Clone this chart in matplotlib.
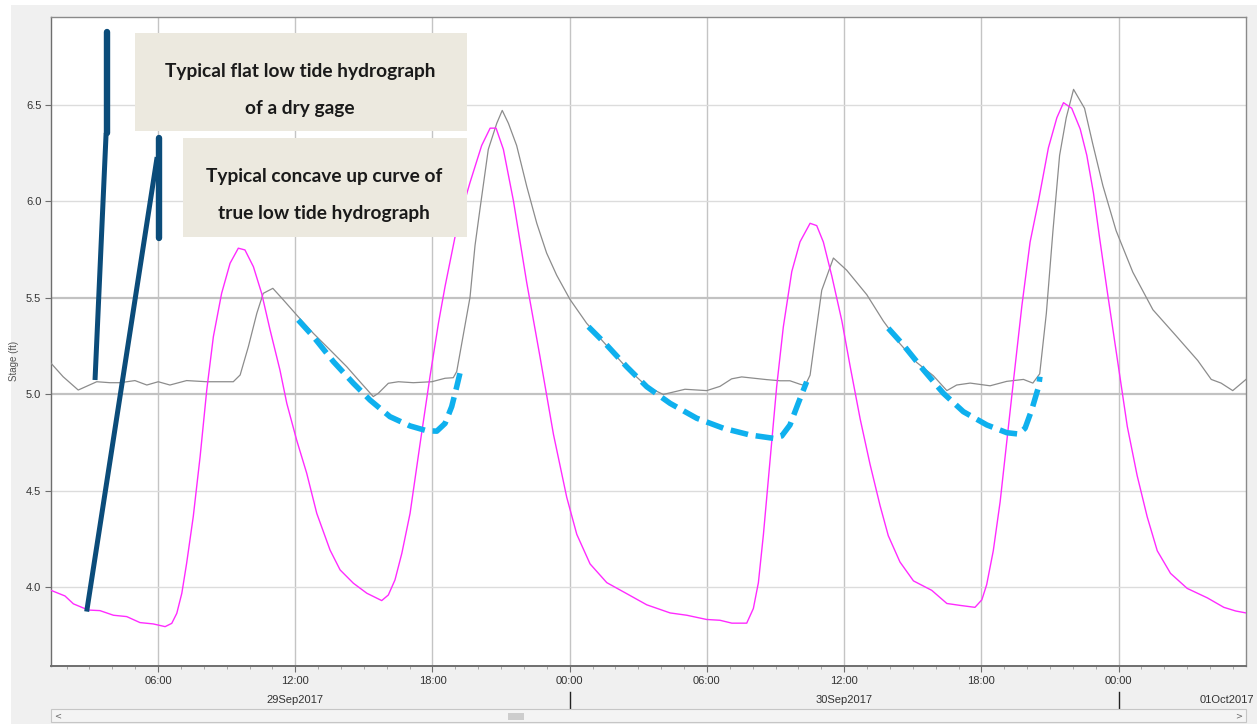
import matplotlib
matplotlib.use("Agg")
import matplotlib.pyplot as plt
from matplotlib.patches import Rectangle
from matplotlib.transforms import blended_transform_factory
from matplotlib.ticker import MultipleLocator, FixedLocator

# hours since 29Sep2017 00:00
pink_hours = [1.32, 1.93, 2.30, 2.95, 3.46, 4.05, 4.63, 5.21, 5.79, 6.31, 6.60, 6.82,
              7.04, 7.25, 7.54, 7.84, 8.13, 8.42, 8.78, 9.15, 9.51, 9.80, 10.17, 10.53,
              10.90, 11.33, 11.63, 12.06, 12.50, 12.94, 13.52, 13.96, 14.54, 15.13, 15.78,
              16.07, 16.36, 16.66, 17.02, 17.46, 17.89, 18.26, 18.55, 19.06, 19.64, 20.15,
              20.52, 20.78, 21.10, 21.54, 22.12, 22.70, 23.29, 23.87, 24.31, 24.89, 25.62,
              26.49, 27.37, 28.39, 29.12, 29.99, 30.57, 31.09, 31.74, 32.03, 32.25, 32.47,
              32.76, 33.05, 33.34, 33.71, 34.07, 34.51, 34.80, 35.09, 35.46, 35.90, 36.26,
              36.70, 37.13, 37.57, 37.93, 38.44, 39.03, 39.83, 40.49, 41.07, 41.72, 42.02,
              42.23, 42.52, 42.82, 43.11, 43.40, 43.77, 44.13, 44.50, 44.93, 45.30, 45.59,
              45.95, 46.32, 46.61, 46.90, 47.17, 47.50, 47.94, 48.38, 48.81, 49.25, 49.69,
              50.27, 51.00, 51.88, 52.60, 53.12, 53.57]
pink_stage = [3.985, 3.956, 3.915, 3.883, 3.880, 3.856, 3.849, 3.818, 3.811, 3.797, 3.814, 3.866,
              3.970, 4.125, 4.367, 4.678, 5.023, 5.300, 5.524, 5.680, 5.758, 5.749, 5.662, 5.524,
              5.334, 5.127, 4.954, 4.764, 4.592, 4.384, 4.194, 4.091, 4.022, 3.970, 3.932,
              3.961, 4.039, 4.177, 4.384, 4.747, 5.092, 5.369, 5.560, 5.860, 6.098, 6.290,
              6.380, 6.380, 6.270, 6.003, 5.580, 5.196, 4.793, 4.467, 4.275, 4.122, 4.025,
              3.968, 3.910, 3.868, 3.856, 3.834, 3.830, 3.815, 3.815, 3.891, 4.025, 4.275,
              4.659, 5.042, 5.350, 5.637, 5.791, 5.887, 5.875, 5.790, 5.614, 5.381, 5.147,
              4.873, 4.639, 4.424, 4.268, 4.132, 4.034, 3.985, 3.917, 3.907, 3.897, 3.936,
              4.014, 4.190, 4.444, 4.756, 5.068, 5.459, 5.790, 6.005, 6.278, 6.434, 6.512,
              6.483, 6.376, 6.239, 6.044, 5.810, 5.537, 5.186, 4.834, 4.580, 4.366, 4.190,
              4.073, 3.995, 3.946, 3.897, 3.878, 3.868]

gray_hours = [1.32, 1.85, 2.51, 3.32, 3.90, 4.34, 4.99, 5.51, 6.01, 6.52, 7.25, 8.13, 9.29,
              9.59, 9.95, 10.32, 10.60, 11.02, 11.48, 12.06, 12.79, 13.52, 14.25, 14.83,
              15.41, 15.63, 16.07, 16.51, 17.16, 17.97, 18.55, 18.91, 19.06, 19.35, 19.64,
              19.86, 20.08, 20.44, 20.81, 21.05, 21.32, 21.68, 22.12, 22.56, 22.99, 23.43,
              24.01, 24.74, 25.62, 26.49, 27.37, 28.09, 29.04, 29.99, 30.57, 31.08, 31.52,
              32.61, 33.20, 33.63, 34.07, 34.29, 34.51, 34.73, 35.02, 35.53, 36.11, 36.99,
              37.71, 38.44, 39.17, 39.90, 40.49, 40.92, 41.51, 42.38, 43.11, 43.84, 44.25,
              44.55, 44.84, 45.13, 45.42, 45.71, 46.03, 46.51, 46.87, 47.31, 47.89, 48.62,
              49.50, 50.52, 51.46, 52.05, 52.48, 52.99, 53.57]
gray_stage = [5.162, 5.092, 5.023, 5.066, 5.061, 5.061, 5.072, 5.049, 5.066, 5.049, 5.072, 5.066, 5.066,
              5.101, 5.248, 5.421, 5.524, 5.550, 5.490, 5.412, 5.317, 5.231, 5.144, 5.066,
              4.989, 5.006, 5.058, 5.066, 5.061, 5.066, 5.084, 5.087, 5.119, 5.311, 5.503,
              5.772, 5.964, 6.270, 6.405, 6.472, 6.405, 6.290, 6.079, 5.887, 5.733, 5.618,
              5.493, 5.369, 5.253, 5.138, 5.042, 5.000, 5.027, 5.020, 5.042, 5.081, 5.091,
              5.077, 5.071, 5.071, 5.053, 5.046, 5.100, 5.292, 5.540, 5.707, 5.644, 5.517,
              5.381, 5.263, 5.166, 5.097, 5.020, 5.049, 5.059, 5.045, 5.068, 5.078, 5.059,
              5.107, 5.420, 5.849, 6.239, 6.434, 6.581, 6.483, 6.298, 6.083, 5.849, 5.634,
              5.439, 5.303, 5.176, 5.078, 5.059, 5.020, 5.078]

# sketched "true" low tide recessions
low1_hours = [12.13, 12.79, 13.67, 14.54, 15.27, 16.14, 17.02, 17.75, 18.19, 18.55, 18.84, 19.06, 19.20]
low1_stage = [5.386, 5.300, 5.170, 5.058, 4.971, 4.885, 4.837, 4.812, 4.810, 4.850, 4.937, 5.040, 5.110]
low2_hours = [24.82, 25.62, 26.49, 27.37, 28.39, 29.55, 30.72, 31.89, 32.90, 33.27, 33.63, 33.99, 34.36]
low2_stage = [5.351, 5.256, 5.144, 5.040, 4.954, 4.877, 4.825, 4.790, 4.773, 4.785, 4.842, 4.954, 5.066]
low3_hours = [37.93, 38.59, 39.47, 40.34, 41.21, 42.24, 43.11, 43.62, 43.91, 44.20, 44.50, 44.56]
low3_stage = [5.343, 5.256, 5.127, 5.006, 4.911, 4.842, 4.802, 4.795, 4.825, 4.920, 5.040, 5.092]

# callout leaders (hours, stage)
flat_leader = ([3.245, 3.73], [5.075, 6.355])
flat_bar = ([3.78, 3.78], [6.355, 6.878])
concave_leader = ([2.88, 5.96], [3.875, 6.23])
concave_bar = ([6.06, 6.06], [5.811, 6.329])

tick_hours = [6, 12, 18, 24, 30, 36, 42, 48]
tick_labels = ["06:00", "12:00", "18:00", "00:00", "06:00", "12:00", "18:00", "00:00"]
day_hours = [12, 36]
day_labels = ["29Sep2017", "30Sep2017"]
last_day = "01Oct2017"

W, H = 1257, 724
fig = plt.figure(figsize=(W / 100, H / 100), dpi=100)
fig.patch.set_facecolor("white")
fig.add_artist(Rectangle((11 / W, 0), 1 - 11 / W, 1 - 5 / H, transform=fig.transFigure,
                         facecolor="#f0f0f0", edgecolor="none", zorder=0))

ax = fig.add_axes([51 / W, 1 - 666 / H, 1195 / W, 649 / H])
ax.set_facecolor("white")
ax.set_xlim(1.32, 53.57)
ax.set_ylim(3.593, 6.956)

# grid
for h in tick_hours:
    ax.axvline(h, color="#c4c4c4", lw=1.0, zorder=1)
for y in [4.0, 4.5, 6.0, 6.5]:
    ax.axhline(y, color="#dcdcdc", lw=1.0, zorder=1)
for y in [5.0, 5.5]:
    ax.axhline(y, color="#c2c2c2", lw=1.6, zorder=1)

ax.plot(gray_hours, gray_stage, color="#8c8c8c", lw=0.9, zorder=3)
ax.plot(pink_hours, pink_stage, color="#ff2bff", lw=1.0, zorder=4)

for hx, sy in [(low1_hours, low1_stage), (low2_hours, low2_stage), (low3_hours, low3_stage)]:
    ax.plot(hx, sy, color="#0fb0ee", lw=4.0, dashes=(3.2, 1.4), solid_capstyle="butt",
            dash_capstyle="butt", zorder=5)

navy = "#0b4c7a"
ax.plot(*flat_leader, color=navy, lw=3.6, solid_capstyle="butt", zorder=6)
ax.plot(*flat_bar, color=navy, lw=4.6, solid_capstyle="round", zorder=6)
ax.plot(*concave_leader, color=navy, lw=3.6, solid_capstyle="butt", zorder=6)
ax.plot(*concave_bar, color=navy, lw=4.6, solid_capstyle="round", zorder=6)

# text boxes
box_color = "#ece9df"
ax.add_patch(Rectangle((0.0703, 0.8243), 0.2778, 0.1506, transform=ax.transAxes,
                       facecolor=box_color, edgecolor="none", zorder=7))
ax.add_patch(Rectangle((0.1107, 0.6615), 0.2372, 0.1516, transform=ax.transAxes,
                       facecolor=box_color, edgecolor="none", zorder=7))
txt = dict(transform=ax.transAxes, ha="center", va="center", fontsize=13.8,
           family="Lato", weight="bold", color="#1a1a1a", zorder=8)
ax.text(0.2084, 0.9159, "Typical flat low tide hydrograph", **txt)
ax.text(0.2084, 0.8595, "of a dry gage", **txt)
ax.text(0.2285, 0.7539, "Typical concave up curve of", **txt)
ax.text(0.2285, 0.6979, "true low tide hydrograph", **txt)

# axes styling
for sp in ax.spines.values():
    sp.set_color("#8a8a8a")
    sp.set_linewidth(1.0)
ax.spines["left"].set_color("#6e6e6e")
ax.spines["bottom"].set_color("#6e6e6e")
ax.spines["bottom"].set_linewidth(1.4)

ax.set_yticks([4.0, 4.5, 5.0, 5.5, 6.0, 6.5])
ax.set_yticklabels(["4.0", "4.5", "5.0", "5.5", "6.0", "6.5"])
ax.xaxis.set_major_locator(FixedLocator(tick_hours))
ax.set_xticklabels(tick_labels)
ax.xaxis.set_minor_locator(MultipleLocator(1))
ax.tick_params(axis="both", which="major", labelsize=8, labelcolor="#333333",
               color="#6e6e6e", length=4, width=0.8, pad=3)
ax.tick_params(axis="x", which="minor", length=2, color="#9a9a9a", width=0.6)
for lab in ax.get_xticklabels() + ax.get_yticklabels():
    lab.set_family("Liberation Sans")

fig.text(14 / W, 1 - 361 / H, "Stage (ft)", rotation=90, ha="center", va="center",
         fontsize=7, color="#555555", family="Liberation Sans")

# date row under the time ticks
bt = blended_transform_factory(ax.transData, fig.transFigure)
for h, lab in zip(day_hours, day_labels):
    ax.text(h, 1 - 700 / H, lab, transform=bt, ha="center", va="center", fontsize=8,
            color="#333333", family="Liberation Sans", clip_on=False)
fig.text(1254 / W, 1 - 700 / H, last_day, ha="right", va="center", fontsize=8,
         color="#333333", family="Liberation Sans")
for h in [24, 48]:
    ax.plot([h, h], [1 - 692 / H, 1 - 708 / H], transform=bt, color="#222222",
            lw=1.0, clip_on=False)

# scrollbar strip
fig.add_artist(Rectangle((51 / W, 1 - 722 / H), 1195 / W, 13 / H, transform=fig.transFigure,
                         facecolor="#f4f4f4", edgecolor="#c6c6c6", lw=0.8))
fig.add_artist(Rectangle((508 / W, 1 - 720 / H), 16 / W, 7 / H, transform=fig.transFigure,
                         facecolor="#cdcdcd", edgecolor="none"))
fig.text(58 / W, 1 - 716 / H, "<", ha="center", va="center", fontsize=6, color="#666666")
fig.text(1239 / W, 1 - 716 / H, ">", ha="center", va="center", fontsize=6, color="#666666")

fig.savefig("out.png", dpi=100)
